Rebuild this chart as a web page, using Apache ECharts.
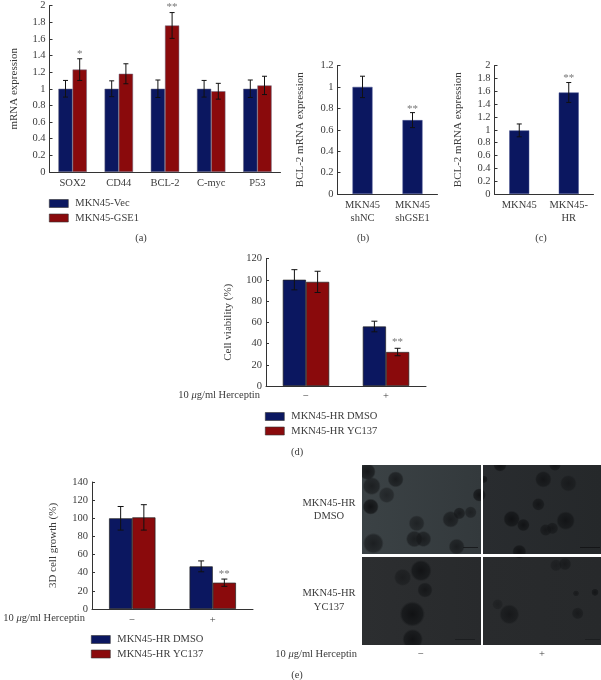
<!DOCTYPE html>
<html><head><meta charset="utf-8">
<style>html,body{margin:0;padding:0;background:#fff}#c{width:601px;height:680px}</style>
<script src="https://cdn.jsdelivr.net/npm/echarts@6/dist/echarts.min.js"></script>
</head><body><div id="c"></div>
<script>
const catsA = ['SOX2','CD44','BCL-2','C-myc','P53'];
const vecA = [1,1,1,1,1];
const vecAErr = [0.10,0.095,0.105,0.10,0.105];
const gseA = [1.23,1.18,1.76,0.97,1.04];
const gseAErr = [0.13,0.12,0.155,0.095,0.11];
const gseAStars = ['*','','**','',''];
const catsB = ['MKN45\nshNC','MKN45\nshGSE1'];
const valsB = [1,0.69];
const errB = [0.10,0.07];
const starsB = ['','**'];
const catsC = ['MKN45','MKN45-\nHR'];
const valsC = [0.99,1.58];
const errC = [0.10,0.155];
const starsC = ['','**'];
const catsTreat = ['\u2212','+'];
const dmsoD = [100,56];
const dmsoDErr = [9.5,5];
const yc137D = [98,32];
const yc137DErr = [10,3.5];
const starsD = ['','**'];
const dmsoE = [100,47];
const dmsoEErr = [13,6];
const yc137E = [101,29];
const yc137EErr = [14,4];
const starsE = ['','**'];

const NAVY='#0b1760', RED='#8a0a0c', TXT='#3a3a3a', FONT='"Liberation Serif", serif';
const grids=[], xAxes=[], yAxes=[], series=[];
function panel(o){
  const i=grids.length;
  grids.push({left:o.l,top:o.t,width:o.w,height:o.h});
  xAxes.push({gridIndex:i,type:'category',data:o.cats,
    axisLine:{lineStyle:{color:'#333',width:1}},
    axisTick:{inside:true,length:3,alignWithLabel:false,lineStyle:{color:'#333'}},
    axisLabel:{color:TXT,fontFamily:FONT,fontSize:10.5,margin:o.labelMargin||4,lineHeight:13.5,interval:0}});
  yAxes.push({gridIndex:i,type:'value',min:0,max:o.max,interval:o.step,
    name:o.yName,nameLocation:'middle',nameGap:o.gap,
    nameTextStyle:{color:TXT,fontFamily:FONT,fontSize:11},
    splitLine:{show:false},
    axisLine:{show:true,lineStyle:{color:'#333',width:1}},
    axisTick:{show:true,inside:true,length:3,lineStyle:{color:'#333'}},
    axisLabel:{color:TXT,fontFamily:FONT,fontSize:10.5,margin:4,showMinLabel:true,showMaxLabel:true}});
  o.sets.forEach((s,k)=>{
    series.push({name:s.name,type:'bar',xAxisIndex:i,yAxisIndex:i,data:s.vals,barWidth:o.bw,barGap:0,
      itemStyle:{color:s.color,borderColor:o.edge,borderWidth:o.edgeW},z:2});
    const off=o.sets.length===1?0:(k===0?-o.bw/2:o.bw/2);
    series.push({type:'custom',xAxisIndex:i,yAxisIndex:i,z:5,silent:true,clip:false,
      data:s.vals.map((v,j)=>[j,v,s.err[j]]),
      encode:{x:0,y:[1]},
      renderItem:(p,api)=>{
        const j=api.value(0),v=api.value(1),e=api.value(2),st=s.stars?s.stars[j]:'';
        const hi=api.coord([j,v+e]),lo=api.coord([j,v-e]);
        const x=hi[0]+off, c=o.cap||2.5, ls={stroke:'#111',lineWidth:1};
        const kids=[
          {type:'line',shape:{x1:x,y1:hi[1],x2:x,y2:lo[1]},style:ls},
          {type:'line',shape:{x1:x-c,y1:hi[1],x2:x+c,y2:hi[1]},style:ls},
          {type:'line',shape:{x1:x-c,y1:lo[1],x2:x+c,y2:lo[1]},style:ls}];
        if(st) kids.push({type:'text',style:{x:x,y:hi[1]-o.starGap,text:st,fill:'#777',fontFamily:FONT,fontSize:11,align:'center',verticalAlign:'middle'}});
        return {type:'group',children:kids};
      }});
  });
}
const thin='#4a5590';
panel({l:49.5,t:4.5,w:231,h:167.5,cats:catsA,max:2,step:0.2,yName:'mRNA expression',gap:30,bw:14.2,edge:'#6a6a80',edgeW:0.5,starGap:5,
  sets:[{name:'MKN45-Vec',vals:vecA,err:vecAErr,color:NAVY},{name:'MKN45-GSE1',vals:gseA,err:gseAErr,color:RED,stars:gseAStars}]});
panel({l:337.5,t:65.5,w:100,h:128.5,cats:catsB,max:1.2,step:0.2,yName:'BCL-2 mRNA expression',gap:32,bw:20,edge:thin,edgeW:0.5,starGap:4,
  sets:[{name:'b',vals:valsB,err:errB,color:NAVY,stars:starsB}]});
panel({l:494.5,t:65.5,w:99,h:128.5,cats:catsC,max:2,step:0.2,yName:'BCL-2 mRNA expression',gap:31,bw:20,edge:thin,edgeW:0.5,starGap:4,
  sets:[{name:'c',vals:valsC,err:errC,color:NAVY,stars:starsC}]});
panel({l:266,t:258.5,w:160,h:127.5,cats:catsTreat,max:120,step:20,yName:'Cell viability (%)',gap:32.5,bw:23.2,edge:'#222',edgeW:0.7,starGap:6,cap:3,labelMargin:3,
  sets:[{name:'MKN45-HR DMSO',vals:dmsoD,err:dmsoDErr,color:NAVY},{name:'MKN45-HR YC137',vals:yc137D,err:yc137DErr,color:RED,stars:starsD}]});
panel({l:92,t:482,w:161,h:127,cats:catsTreat,max:140,step:20,yName:'3D cell growth (%)',gap:33.5,bw:23.2,edge:'#222',edgeW:0.7,starGap:5,cap:3,
  sets:[{name:'MKN45-HR DMSO',vals:dmsoE,err:dmsoEErr,color:NAVY},{name:'MKN45-HR YC137',vals:yc137E,err:yc137EErr,color:RED,stars:starsE}]});

function legend(names,l,t){
  return {data:names,left:l,top:t,orient:'vertical',itemWidth:19,itemHeight:8,itemGap:3.5,padding:0,selectedMode:false,icon:'rect',
    itemStyle:{borderColor:'#333',borderWidth:0.6},
    textStyle:{color:TXT,fontFamily:FONT,fontSize:10.5,padding:[0,0,0,2]}};
}
const g=[];
function txt(x,y,t,align){g.push({type:'text',z:20,style:{x,y,text:t,fill:TXT,fontFamily:FONT,fontSize:10.5,align:align||'center',verticalAlign:'middle',
  rich:{i:{fontStyle:'italic',fontFamily:FONT,fontSize:10.5,fill:TXT}}}});}
txt(141,238,'(a)');txt(363,238,'(b)');txt(541,238,'(c)');txt(297,452,'(d)');txt(297,675,'(e)');
txt(260,395,'10 {i|\u03bc}g/ml Herceptin','right');
txt(85,618,'10 {i|\u03bc}g/ml Herceptin','right');
txt(357,654,'10 {i|\u03bc}g/ml Herceptin','right');
txt(421,654,'\u2212');txt(542,654,'+');
txt(329,503,'MKN45-HR');txt(329,516,'DMSO');txt(329,593,'MKN45-HR');txt(329,607,'YC137');

function photo(x,y,w,h,c1,c2,blobs,bar){
  g.push({type:'rect',z:10,shape:{x,y,width:w,height:h},style:{fill:new echarts.graphic.LinearGradient(0,0,1,0,[{offset:0,color:c1},{offset:1,color:c2}])}});
  blobs.forEach(b=>{
    const cx=280+b[0]/3,cy=460+b[1]/3,r=b[2]/3+1.5;
    g.push({type:'circle',z:11,shape:{cx,cy,r},style:{fill:new echarts.graphic.RadialGradient(0.5,0.5,0.5,[
      {offset:0,color:'rgba(15,16,18,'+b[3]+')'},{offset:0.8,color:'rgba(20,22,24,'+(b[3]*0.8)+')'},{offset:1,color:'rgba(30,32,34,0)'}])}});
  });
  g.push({type:'rect',z:12,shape:{x:bar[0],y:bar[1],width:bar[2],height:1},style:{fill:bar[3]}});
}
photo(362,465,119,89,'#3b4245','#33393c',[[262,35,21,.85],[275,78,23,.7],[347,58,20,.75],[320,105,20,.55],[272,140,20,.95],[410,190,20,.6],[512,178,21,.7],[538,160,14,.75],[572,157,14,.6],[598,105,16,.9],[280,250,27,.7],[403,237,21,.7],[430,237,20,.7],[530,260,20,.7]],[463,547,15,'#1a1c1e']);
photo(483,465,118,89,'#292c2f','#25282a',[[660,15,16,.9],[825,15,14,.8],[790,58,21,.8],[865,70,21,.6],[775,133,15,.8],[695,177,21,.95],[730,195,15,.9],[857,182,24,.85],[797,210,14,.7],[817,205,14,.7],[718,275,17,.95],[612,58,7,.9]],[580,547,20,'#141517']);
photo(362,557,119,88,'#2c2e30','#282a2c',[[368,352,22,.55],[423,332,28,.9],[435,390,19,.75],[397,462,34,.95],[398,538,27,.9]],[455,639,20,'#1c1e20']);
photo(483,557,118,88,'#292b2d','#27292b',[[828,316,14,.45],[855,312,15,.6],[653,433,12,.4],[688,463,26,.7],[893,460,14,.6],[888,400,5,.6],[945,397,7,.8]],[585,639,15,'#1c1e20']);
// white frame that trims cell blobs to the photo edges
[[355,455,7,195],[481,460,2,190],[355,455,246,10],[355,554,246,3],[355,645,246,5]].forEach(r=>g.push({type:'rect',z:13,shape:{x:r[0],y:r[1],width:r[2],height:r[3]},style:{fill:'#fff'}}));

const chart=echarts.init(document.getElementById('c'),null,{renderer:'canvas'});
chart.setOption({animation:false,backgroundColor:'#fff',grid:grids,xAxis:xAxes,yAxis:yAxes,series,graphic:g,
  legend:[legend(['MKN45-Vec','MKN45-GSE1'],49,198),legend(['MKN45-HR DMSO','MKN45-HR YC137'],265,411),legend(['MKN45-HR DMSO','MKN45-HR YC137'],91,634)]});
</script></body></html>
